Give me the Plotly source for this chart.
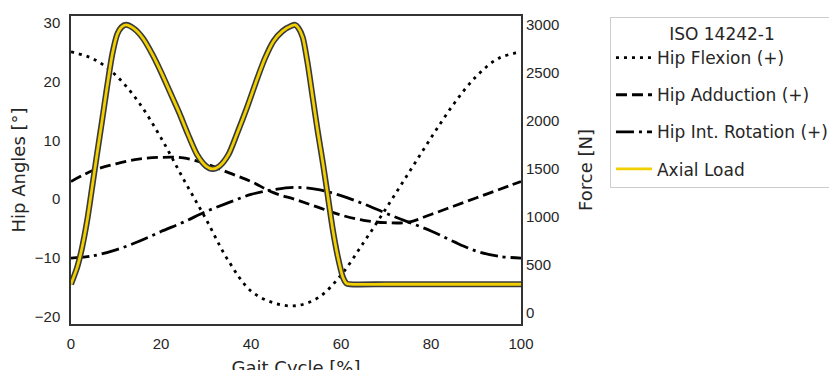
import plotly.graph_objects as go

# ---- data ----
gait_angles = [0, 5, 10, 15, 20, 25, 30, 35, 40, 45, 50, 55, 60, 65, 70, 75, 80, 85, 90, 95, 100]
hip_flexion = [25.0, 23.8, 21.0, 16.5, 10.4, 3.4, -3.4, -10.5, -15.6, -17.6, -18.1, -16.7, -12.9, -7.4, -1.6, 4.4, 10.4, 16.1, 20.8, 23.9, 25.0]
hip_adduction = [3.0, 4.9, 6.0, 6.8, 7.1, 7.0, 6.0, 4.5, 3.0, 1.1, -0.1, -1.4, -2.7, -3.6, -4.0, -3.9, -2.6, -1.2, 0.2, 1.6, 3.0]
hip_rotation = [-10.0, -9.6, -8.6, -7.2, -5.5, -3.9, -2.1, -0.6, 0.8, 1.6, 2.0, 1.6, 0.6, -0.8, -2.4, -3.9, -5.4, -7.2, -8.8, -9.7, -10.0]

gait_load = [0, 1.4, 2.5, 3.6, 4.7, 5.8, 6.9, 8.0, 9.2, 10.3, 11.2, 12.2, 14, 16, 18, 20, 22, 24, 26, 28, 30, 31.5, 33,
             35, 37, 39, 41, 43, 45, 47, 49, 49.8, 50.5, 51.5, 52.6, 53.7, 54.8, 56, 57.1, 58.2, 59.3, 60.4, 61.2, 62,
             70, 80, 90, 100]
axial_load = [300, 480, 690, 965, 1310, 1660, 2000, 2350, 2700, 2905, 2975, 3000, 2960, 2860, 2700, 2510, 2300, 2090, 1860, 1650, 1530, 1500, 1530,
              1650, 1880, 2125, 2390, 2640, 2830, 2935, 2990, 3000, 2970, 2870, 2594, 2247, 1900, 1554, 1208, 861, 584, 376, 310, 300,
              300, 300, 300, 300]

left_ticks = [-20, -10, 0, 10, 20, 30]
right_ticks = [0, 500, 1000, 1500, 2000, 2500, 3000]
x_ticks = [0, 20, 40, 60, 80, 100]

TXT = "#262626"
SPINE = "#333333"

fig = go.Figure()

fig.add_trace(go.Scatter(x=gait_angles, y=hip_flexion, mode="lines", name="Hip Flexion (+)",
                         line=dict(color="black", width=2.8, dash="3px,5px", shape="spline"),
                         legendgroup="a"))
fig.add_trace(go.Scatter(x=gait_angles, y=hip_adduction, mode="lines", name="Hip Adduction (+)",
                         line=dict(color="black", width=2.8, dash="11px,5px", shape="spline"),
                         legendgroup="b"))
fig.add_trace(go.Scatter(x=gait_angles, y=hip_rotation, mode="lines", name="Hip Int. Rotation (+)",
                         line=dict(color="black", width=2.8, dash="18px,5px,3px,5px", shape="spline"),
                         legendgroup="c"))
fig.add_trace(go.Scatter(x=gait_load, y=axial_load, mode="lines", name="Axial Load outline",
                         line=dict(color="#3a3a3a", width=6, shape="spline", smoothing=0.7),
                         yaxis="y2", showlegend=False, hoverinfo="skip", legendgroup="d"))
fig.add_trace(go.Scatter(x=gait_load, y=axial_load, mode="lines", name="Axial Load",
                         line=dict(color="#F2CF00", width=2.8, shape="spline", smoothing=0.7),
                         yaxis="y2", legendgroup="d"))

fig.update_layout(
    width=837, height=370,
    margin=dict(l=63, r=324, t=8, b=54),
    paper_bgcolor="white", plot_bgcolor="white",
    font=dict(family="DejaVu Sans", color=TXT),
    xaxis=dict(range=[0, 100], tickvals=x_ticks, showgrid=False, zeroline=False, automargin=False,
               showline=True, linecolor=SPINE, linewidth=1.5, mirror=True,
               ticks="outside", ticklen=5, tickcolor="rgba(0,0,0,0)",
               tickfont=dict(family="Liberation Sans", size=15, color=TXT),
               title=dict(text="Gait Cycle [%]", font=dict(family="DejaVu Sans", size=18, color=TXT), standoff=16)),
    yaxis=dict(range=[-21.2, 31.1], tickvals=left_ticks, showgrid=False, zeroline=False, automargin=False,
               showline=True, linecolor=SPINE, linewidth=1.5, mirror=True,
               ticks="outside", ticklen=6, tickcolor="rgba(0,0,0,0)",
               tickfont=dict(family="Liberation Sans", size=15, color=TXT),
               title=dict(text="Hip Angles [°]", font=dict(family="DejaVu Sans", size=18, color=TXT), standoff=4)),
    yaxis2=dict(range=[-114, 3092], tickvals=right_ticks, overlaying="y", side="right", automargin=False,
                showgrid=False, zeroline=False, showline=False,
                ticks="outside", ticklen=1, tickcolor="rgba(0,0,0,0)",
                tickfont=dict(family="Liberation Sans", size=15, color=TXT),
                title=dict(text="Force [N]", font=dict(family="DejaVu Sans", size=18, color=TXT), standoff=21)),
    legend=dict(xref="container", yref="container", x=0.7192, y=0.9757, xanchor="left", yanchor="top",
                bgcolor="white", bordercolor="#cccccc", borderwidth=1,
                font=dict(family="DejaVu Sans", size=17, color=TXT),
                title=dict(text="ISO 14242-1", side="top center", font=dict(family="DejaVu Sans", size=17, color=TXT)),
                traceorder="grouped", tracegroupgap=12, itemwidth=36),
    showlegend=True,
)

fig.write_html("out.html")
